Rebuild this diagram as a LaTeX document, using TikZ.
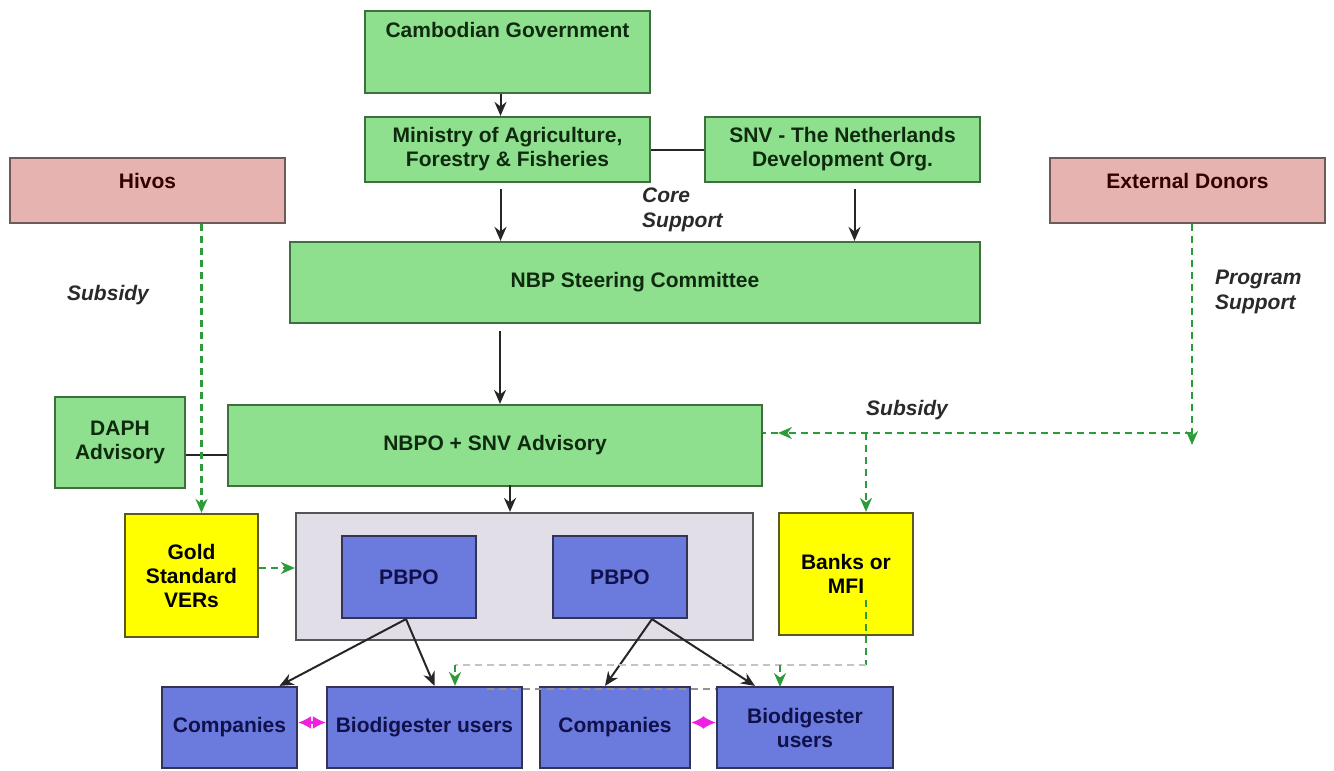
\documentclass[tikz,border=0pt]{standalone}
\usepackage{fontspec}
\setmainfont{Liberation Sans}
\usetikzlibrary{arrows.meta,calc}
\definecolor{gfill}{HTML}{8EE08E}
\definecolor{gline}{HTML}{3F6E3F}
\definecolor{gtext}{HTML}{0F2A0F}
\definecolor{pfill}{HTML}{E6B3B1}
\definecolor{pline}{HTML}{6E5A58}
\definecolor{yfill}{HTML}{FFFF00}
\definecolor{yline}{HTML}{5A5A20}
\definecolor{bfill}{HTML}{6B7BDD}
\definecolor{bline}{HTML}{333355}
\definecolor{btext}{HTML}{10104A}
\definecolor{grayfill}{HTML}{E2DEE8}
\definecolor{grayline}{HTML}{555555}
\definecolor{dgreen}{HTML}{2E9B3A}
\definecolor{mag}{HTML}{F020E0}
\definecolor{lab}{HTML}{2A2A2A}
\definecolor{lgray}{HTML}{C4C4C4}
\begin{document}
\begin{tikzpicture}[x=1pt,y=-1pt,
  box/.style={draw,line width=2.2pt,inner sep=0pt,align=center,font=\fontsize{21}{24}\selectfont\bfseries},
  gbox/.style={box,fill=gfill,draw=gline,text=gtext},
  pbox/.style={box,fill=pfill,draw=pline,text=black!80!red},
  ybox/.style={box,fill=yfill,draw=yline,text=black},
  bbox/.style={box,fill=bfill,draw=bline,text=btext},
  wbox/.style={box,fill=grayfill,draw=grayline},
  lbl/.style={font=\fontsize{21}{25}\selectfont\bfseries\itshape,text=lab,inner sep=0pt},
  arr/.style={line width=2pt,draw=black!85,-{Stealth[length=14pt,width=12pt]}},
  gd/.style={draw=dgreen,line width=2.2pt,dash pattern=on 7pt off 5pt},
  gdarr/.style={gd,-{Stealth[length=14pt,width=12pt]}},
  marr/.style={draw=mag,line width=2.2pt,{Latex[length=13pt,width=13pt]}-{Latex[length=13pt,width=13pt]}}
]
\useasboundingbox (0,0) rectangle (1334,771);
% boxes
\node[gbox,anchor=north,minimum width=285pt,text height=26pt,text depth=56pt] (cg) at (507.5,10) {Cambodian Government};
\node[gbox,minimum width=285pt,minimum height=65pt] (min) at (507.5,149.5) {Ministry of Agriculture,\\Forestry \& Fisheries};
\node[gbox,minimum width=275pt,minimum height=65pt] (snv) at (842.5,149.5) {SNV - The Netherlands\\Development Org.};
\node[pbox,anchor=north,minimum width=275pt,text height=30pt,text depth=35pt] (hiv) at (147.5,157) {Hivos};
\node[pbox,anchor=north,minimum width=275pt,text height=30pt,text depth=35pt] (ext) at (1187.5,157) {External Donors};
\node[gbox,minimum width=690pt,minimum height=81pt] (st) at (635,282.5) {NBP Steering Committee};
\node[gbox,minimum width=130pt,minimum height=91pt] (daph) at (120,442.5) {DAPH\\Advisory};
\node[gbox,minimum width=534pt,minimum height=81pt] (nbpo) at (495,445.5) {NBPO + SNV Advisory};
\node[ybox,minimum width=133pt,minimum height=123pt] (gold) at (191.5,575.5) {Gold\\Standard\\VERs};
\node[wbox,minimum width=457pt,minimum height=127pt] (gray) at (524.5,576.5) {};
\node[bbox,minimum width=134pt,minimum height=82pt] (pb1) at (409,577) {PBPO};
\node[bbox,minimum width=134pt,minimum height=82pt] (pb2) at (620,577) {PBPO};
\node[ybox,minimum width=134pt,minimum height=122pt] (bank) at (846,574) {Banks or\\MFI};
\node[bbox,minimum width=135pt,minimum height=81pt] (co1) at (229.5,727.5) {Companies};
\node[bbox,minimum width=195pt,minimum height=81pt] (bu1) at (424.5,727.5) {Biodigester users};
\node[bbox,minimum width=150pt,minimum height=81pt] (co2) at (615,727.5) {Companies};
\node[bbox,minimum width=176pt,minimum height=81pt] (bu2) at (805,727.5) {Biodigester\\users};
% labels
\node[lbl,align=left,anchor=west] (core) at (642,210) {Core\\Support};
\node[lbl] (sub1) at (108,295) {Subsidy};
\node[lbl,align=left,anchor=west] (prog) at (1215,292) {Program\\Support};
\node[lbl] (sub2) at (907,410) {Subsidy};
% black connectors
\draw[arr] ([xshift=-7pt]cg.south) -- ([xshift=-7pt]min.north);
\draw[arr,shorten <=6pt] ([xshift=-7pt]min.south) -- ([xshift=-7pt]min.south |- st.north);
\draw[arr,shorten <=6pt] ([xshift=12pt]snv.south) -- ([xshift=12pt]snv.south |- st.north);
\draw[line width=2pt,draw=black!85] (min.east) -- (snv.west);
\draw[arr,shorten <=7pt] ([xshift=-135pt]st.south) -- ([xshift=-135pt]st.south |- nbpo.north);
\draw[line width=2pt,draw=black!85] ([yshift=-12pt]daph.east) -- ([yshift=-12pt]daph.east -| nbpo.west);
\draw[arr,shorten <=-2pt] ([xshift=15pt]nbpo.south) -- ([xshift=15pt]nbpo.south |- gray.north);
\coordinate (p1) at ([xshift=-3pt]pb1.south);
\coordinate (p2) at ([xshift=32pt]pb2.south);
\draw[arr] (p1) -- ([xshift=50pt]co1.north);
\draw[arr] (p1) -- ([xshift=10pt]bu1.north);
\draw[arr] (p2) -- ([xshift=-10pt]co2.north);
\draw[arr] (p2) -- ([xshift=-50pt]bu2.north);
% green dashed connectors
\coordinate (hv) at ([xshift=10pt]gold.north);
\draw[gdarr] (hv |- hiv.south) -- (hv);
\draw[gdarr] (gold.east |- 0,568) -- (gray.west |- 0,568);
\coordinate (ej) at (1192,445);
\coordinate (jx) at (1192,433);
\coordinate (jb) at (866,433);
\draw[gdarr] (ej |- ext.south) -- (ej);
\draw[gdarr] (jx) -- (778,433);
\draw[gd] (778,433) -- (nbpo.east |- jx);
\draw[gdarr] (jb) -- (jb |- bank.north);
\coordinate (bl) at (866,665);
\coordinate (bleft) at (455,665);
\draw[gd] (866,600) -- (bl);
\draw[draw=lgray,line width=2pt,dash pattern=on 7pt off 5pt] (bl) -- (bleft);
\draw[gdarr] (bleft) -- (bleft |- bu1.north);
\draw[gdarr] (780,665) -- (780,687);
\draw[draw=lgray!75!black,line width=2pt,dash pattern=on 7pt off 5pt] (487,689) -- (bu2.north west |- 0,689);
% magenta double arrows
\draw[marr] ([yshift=5pt]co1.east) -- ([yshift=5pt]bu1.west);
\draw[marr] ([yshift=5pt]co2.east) -- ([yshift=5pt]bu2.west);
\end{tikzpicture}
\end{document}
